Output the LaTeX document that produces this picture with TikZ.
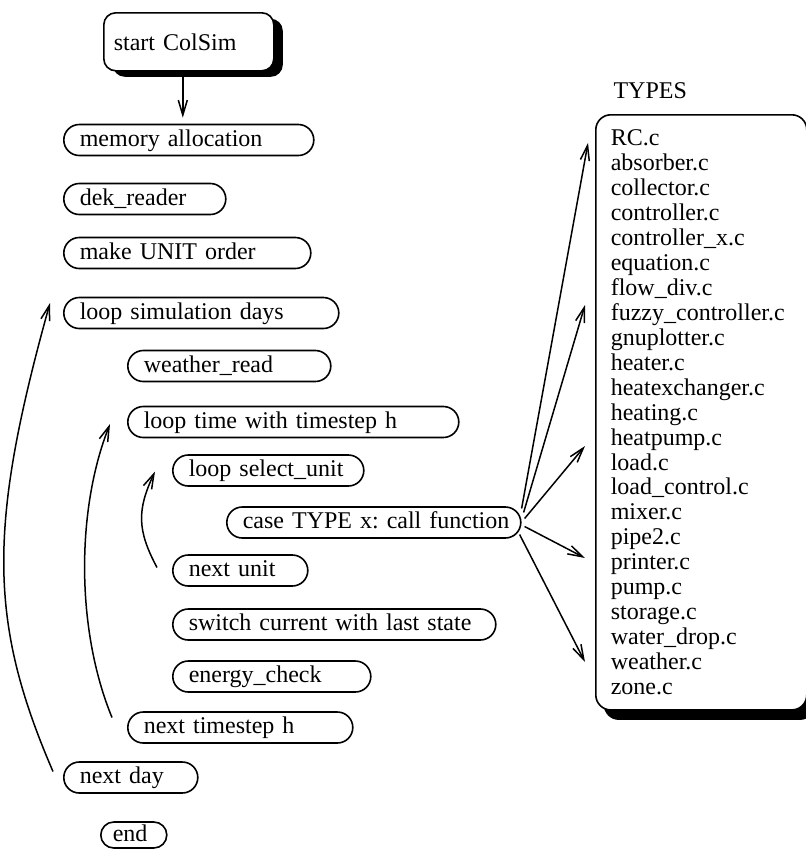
\documentclass[tikz,border=0pt]{standalone}
\usepackage{fontspec}
\setmainfont{Liberation Serif}
\usetikzlibrary{arrows.meta,shadows}

\begin{document}
\begin{tikzpicture}[x=1pt,y=-1pt,
		every node/.style={font=\fontsize{24}{24.95}\selectfont\frenchspacing},
		pill/.style={draw,line width=1.6pt,rounded corners=15.5pt,minimum height=31pt,
			inner xsep=16pt,inner ysep=0pt,text height=17pt,text depth=5pt,anchor=west,align=left},
		shadowbox/.style={draw,fill=white,line width=1.6pt,anchor=north west,align=left},
		>={Straight Barb[length=15pt,width=9pt]},
		link/.style={line width=1.5pt,->}]
		\useasboundingbox (0,0) rectangle (806,852);
		% main program
		\node[shadowbox,rounded corners=12pt,minimum width=170pt,minimum height=58pt,
		text width=150pt,inner xsep=10pt,
		drop shadow={shadow xshift=9pt,shadow yshift=-6pt,fill=black,opacity=1}] (start) at (103,12) {start ColSim};
		\node[pill,text width=218pt] (mem) at (63,140) {memory allocation};
		\node[pill,text width=130pt] (dek) at (63,199) {dek\_reader};
		\node[pill,text width=215pt] (order) at (63,253) {make UNIT order};
		\node[pill,text width=243pt] (loopday) at (63,313) {loop simulation days};
		\node[pill,text width=171pt] (weather) at (127,366) {weather\_read};
		\node[pill,text width=299pt] (looptime) at (127,422) {loop time with timestep h};
		\node[pill,text width=159pt] (loopunit) at (172,470.5) {loop select\_unit};
		\node[pill,text width=262pt] (case) at (226,522.5) {\mbox{case TYPE x: call function}};
		\node[pill,text width=103pt] (nextunit) at (172,570.5) {next unit};
		\node[pill,text width=291pt] (switch) at (172,624.5) {switch current with last state};
		\node[pill,text width=166pt] (energy) at (172,676.5) {energy\_check};
		\node[pill,text width=193pt] (nextstep) at (127,727.5) {next timestep h};
		\node[pill,text width=102pt] (nextday) at (63,777.5) {next day};
		\node[pill,text width=42pt,inner xsep=12pt,minimum height=26pt,rounded corners=13pt] (end) at (100,835) {end};
		\draw[link,shorten >=6pt] ([xshift=-6pt]start.south) -- ([xshift=-6pt]start.south |- mem.north);
		% loops
		\draw[link] ([shift={(-10,-6)}]nextday.west) .. controls (-12,621) and (-12,526) .. ([shift={(-13,-10)}]loopday.west);
		\draw[link] ([shift={(-15,-10)}]nextstep.west) .. controls (76,630) and (76,510) .. ([shift={(-17,2)}]looptime.west);
		\draw[link] ([shift={(-15,-3)}]nextunit.west) .. controls (137,530) and (137,510) .. ([shift={(-17,1)}]loopunit.west);
		% unit types
		\node[anchor=base west] (typeslabel) at (610,98) {TYPES};
		\node[shadowbox,rounded corners=15pt,inner xsep=15pt,inner ysep=15pt,text width=181pt,
		drop shadow={shadow xshift=8pt,shadow yshift=-10pt,fill=black,opacity=1}] (types) at (595,114)
		{RC.c\\absorber.c\\collector.c\\controller.c\\controller\_x.c\\equation.c\\flow\_div.c\\
			fuzzy\_controller.c\\gnuplotter.c\\heater.c\\heatexchanger.c\\heating.c\\heatpump.c\\
			load.c\\load\_control.c\\mixer.c\\pipe2.c\\printer.c\\pump.c\\storage.c\\
			water\_drop.c\\weather.c\\zone.c};
		\coordinate (t1) at (588,143);
		\coordinate (t2) at (585,305);
		\coordinate (t3) at (585,446);
		\coordinate (t4) at (585,558);
		\coordinate (t5) at (585,662);
		\draw[link] ([shift={(0,-14)}]case.east) -- (t1);
		\draw[link] ([shift={(2,-10)}]case.east) -- (t2);
		\draw[link] ([shift={(3,-4)}]case.east) -- (t3);
		\draw[link] ([shift={(3,4)}]case.east) -- (t4);
		\draw[link] ([shift={(-2,12)}]case.east) -- (t5);
\end{tikzpicture}
\end{document}
